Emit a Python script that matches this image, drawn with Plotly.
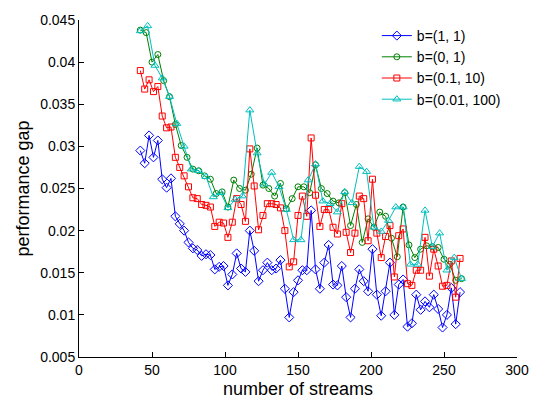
import plotly.graph_objects as go

# ---- data ----
x_b = list(range(42, 262, 3))
y_b = [0.0295, 0.0280, 0.0313, 0.0287, 0.0307, 0.0261, 0.0251, 0.0262, 0.0217, 0.0208,
       0.0200, 0.0186, 0.0179, 0.0177, 0.0170, 0.0172, 0.0171, 0.0154, 0.0157, 0.0158,
       0.0135, 0.0148, 0.0173, 0.0155, 0.0151, 0.0200, 0.0176, 0.0140, 0.0153, 0.0162,
       0.0153, 0.0155, 0.0165, 0.0131, 0.0097, 0.0127, 0.0141, 0.0153, 0.0153, 0.0224,
       0.0154, 0.0131, 0.0162, 0.0183, 0.0136, 0.0135, 0.0158, 0.0121, 0.0097, 0.0131,
       0.0154, 0.0140, 0.0128, 0.0178, 0.0124, 0.0099, 0.0128, 0.0162, 0.0100, 0.0136,
       0.0142, 0.0086, 0.0090, 0.0124, 0.0106, 0.0116, 0.0109, 0.0124, 0.0107, 0.0085,
       0.0100, 0.0132, 0.0089, 0.0127]

x_g = list(range(42, 263, 4))
y_g = [0.0438, 0.0435, 0.0400, 0.0409, 0.0378, 0.0359, 0.0326, 0.0301, 0.0287, 0.0273,
       0.0271, 0.0265, 0.0261, 0.0244, 0.0246, 0.0228, 0.0260, 0.0250, 0.0248, 0.0267,
       0.0298, 0.0254, 0.0250, 0.0241, 0.0256, 0.0226, 0.0238, 0.0252, 0.0252, 0.0245,
       0.0278, 0.0250, 0.0244, 0.0235, 0.0233, 0.0245, 0.0206, 0.0231, 0.0186, 0.0214,
       0.0204, 0.0222, 0.0217, 0.0191, 0.0169, 0.0228, 0.0183, 0.0168, 0.0178, 0.0182,
       0.0181, 0.0180, 0.0166, 0.0160, 0.0141, 0.0143]

x_r = list(range(42, 262, 3))
y_r = [0.0390, 0.0368, 0.0379, 0.0365, 0.0371, 0.0336, 0.0322, 0.0323, 0.0287, 0.0275,
       0.0265, 0.0252, 0.0239, 0.0238, 0.0231, 0.0230, 0.0228, 0.0205, 0.0210, 0.0209,
       0.0192, 0.0210, 0.0238, 0.0231, 0.0211, 0.0297, 0.0253, 0.0201, 0.0218, 0.0232,
       0.0232, 0.0231, 0.0227, 0.0200, 0.0157, 0.0163, 0.0218, 0.0241, 0.0217, 0.0310,
       0.0242, 0.0205, 0.0225, 0.0225, 0.0204, 0.0196, 0.0232, 0.0198, 0.0174, 0.0197,
       0.0241, 0.0238, 0.0188, 0.0261, 0.0197, 0.0168, 0.0193, 0.0206, 0.0145, 0.0194,
       0.0202, 0.0137, 0.0135, 0.0153, 0.0153, 0.0192, 0.0146, 0.0178, 0.0158, 0.0134,
       0.0135, 0.0164, 0.0121, 0.0167]

x_c = list(range(42, 263, 5))
y_c = [0.0437, 0.0443, 0.0396, 0.0381, 0.0359, 0.0327, 0.0300, 0.0273, 0.0271, 0.0264,
       0.0240, 0.0245, 0.0227, 0.0237, 0.0241, 0.0343, 0.0292, 0.0255, 0.0269, 0.0252,
       0.0225, 0.0189, 0.0189, 0.0260, 0.0279, 0.0235, 0.0232, 0.0222, 0.0246, 0.0233,
       0.0276, 0.0270, 0.0204, 0.0199, 0.0212, 0.0228, 0.0228, 0.0160, 0.0160, 0.0224,
       0.0181, 0.0197, 0.0153, 0.0168, 0.0143]

names = ["b=(1, 1)", "b=(0, 1)", "b=(0.1, 10)", "b=(0.01, 100)"]
colors = ["#0000FF", "#008000", "#FF0000", "#00BFBF"]
symbols = ["diamond-open", "circle-open", "square-open", "triangle-up-open"]
sizes = [7, 6, 6, 7]

x_ticks = [0, 50, 100, 150, 200, 250, 300]
y_ticks = [0.005, 0.01, 0.015, 0.02, 0.025, 0.03, 0.035, 0.04, 0.045]
y_ticktext = ["0.005", "0.01", "0.015", "0.02", "0.025", "0.03", "0.035", "0.04", "0.045"]

fig = go.Figure()
for xs, ys, nm, col, sym, sz in zip([x_b, x_g, x_r, x_c], [y_b, y_g, y_r, y_c],
                                    names, colors, symbols, sizes):
    fig.add_trace(go.Scatter(
        x=xs, y=ys, name=nm, mode="lines+markers",
        line=dict(color=col, width=1),
        marker=dict(symbol=sym, size=sz, color=col, line=dict(color=col, width=1)),
    ))

axis_font = dict(family="Liberation Sans, Arial, sans-serif", size=14, color="#000000")

fig.update_layout(
    width=541, height=407,
    margin=dict(l=79, r=24, t=13, b=46),
    paper_bgcolor="white", plot_bgcolor="white",
    font=axis_font,
    showlegend=True,
    legend=dict(x=0.68, y=1.0, xanchor="left", yanchor="top",
                bgcolor="rgba(255,255,255,0)", borderwidth=0,
                font=dict(family="Liberation Sans, Arial, sans-serif", size=14, color="#000"),
                tracegroupgap=0, itemwidth=30),
    xaxis=dict(range=[0, 300], tickvals=x_ticks, ticks="inside", ticklen=5,
               tickcolor="#000", showline=True, linecolor="#000", linewidth=1,
               showgrid=False, zeroline=False, mirror=False,
               title=dict(text="number of streams", font=dict(size=18), standoff=5),
               tickfont=dict(size=14)),
    yaxis=dict(range=[0.005, 0.045], tickvals=y_ticks, ticktext=y_ticktext,
               ticks="inside", ticklen=5, tickcolor="#000",
               showline=True, linecolor="#000", linewidth=1,
               showgrid=False, zeroline=False, mirror=False,
               title=dict(text="performance gap", font=dict(size=18), standoff=5),
               tickfont=dict(size=14)),
)

fig.write_html("out.html")
